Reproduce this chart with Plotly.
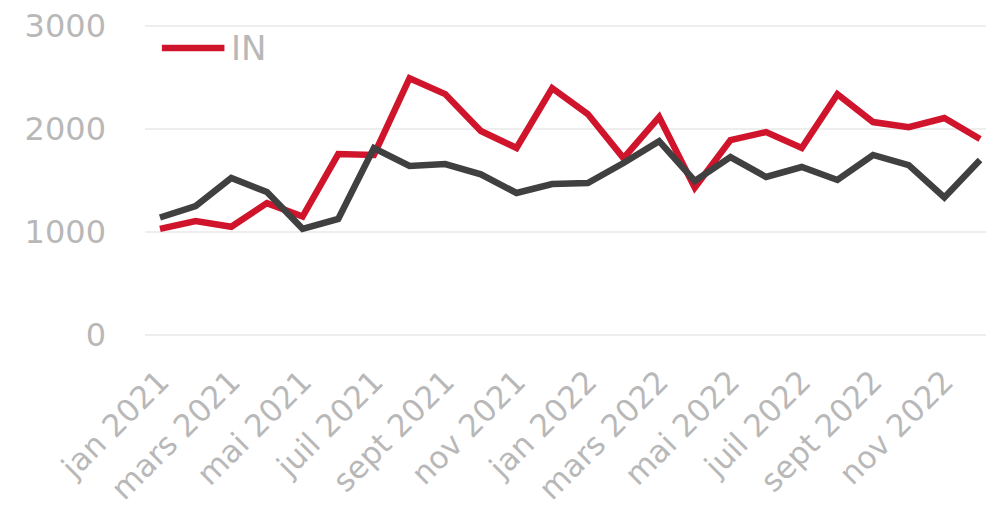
import plotly.graph_objects as go

months = ["jan", "févr", "mars", "avr", "mai", "juin", "juil", "août", "sept", "oct", "nov", "déc"]
categories = [f"{m} {y}" for y in (2021, 2022) for m in months]

in_values = [1030, 1105, 1050, 1280, 1150, 1757, 1748, 2495, 2340, 1981, 1816, 2398,
             2146, 1718, 2117, 1430, 1893, 1971, 1816, 2340, 2068, 2019, 2107, 1903]
out_values = [1140, 1252, 1524, 1388, 1030, 1126, 1816, 1641, 1660, 1560, 1379, 1466,
              1476, 1670, 1883, 1495, 1728, 1534, 1631, 1505, 1748, 1650, 1335, 1699]

tick_vals = categories[::2]
tick_text = categories[::2]
y_ticks = [0, 1000, 2000, 3000]

RED = "#d0142c"
DARK = "#404040"
LABEL = "#b8b8b8"
FONT = "DejaVu Sans"

fig = go.Figure()
fig.add_trace(go.Scatter(x=categories, y=in_values, name="IN", mode="lines",
                         line=dict(color=RED, width=6.5), showlegend=False))
fig.add_trace(go.Scatter(x=categories, y=out_values, name="OUT", mode="lines",
                         line=dict(color=DARK, width=6.5), showlegend=False))

# legend (line sample + label), styled like the original
fig.add_shape(type="line", xref="paper", yref="paper", x0=0.020, x1=0.094, y0=0.926, y1=0.926,
              line=dict(color=RED, width=6.5))
fig.add_annotation(text="IN", xref="paper", yref="paper", x=0.099, y=0.926,
                   xanchor="left", yanchor="middle", showarrow=False,
                   font=dict(size=34, color=LABEL, family=FONT))

fig.update_layout(
    width=994, height=512,
    margin=dict(l=137, r=12, t=17, b=184),
    paper_bgcolor="white", plot_bgcolor="white",
    font=dict(family=FONT, color=LABEL, size=30),
    showlegend=False,
    xaxis=dict(type="category", categoryorder="array", categoryarray=categories,
               range=[-0.42, 23.28], tickmode="array", tickvals=tick_vals,
               ticktext=tick_text, tickangle=-45, showgrid=False, showline=False,
               zeroline=False, ticks="", automargin=False, ticklabelstandoff=20,
               ticklabeloverflow="allow",
               tickfont=dict(size=31, color=LABEL)),
    yaxis=dict(range=[-12, 3012], tickvals=y_ticks, showgrid=True,
               gridcolor="#eeeeee", gridwidth=2, zeroline=False, showline=False,
               ticks="", automargin=False, ticklabelstandoff=38,
               ticklabeloverflow="allow",
               tickfont=dict(size=32, color=LABEL)),
)

fig.write_html("out.html")
